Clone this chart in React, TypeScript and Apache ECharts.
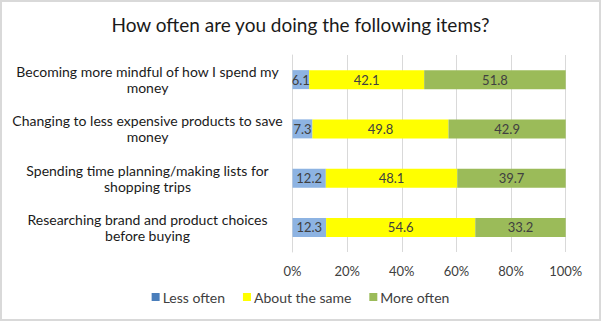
import React, { useEffect, useRef } from "react";
import * as echarts from "echarts";

const categories = [
  "Becoming more mindful of how I spend my\nmoney",
  "Changing to less expensive products to save\nmoney",
  "Spending time planning/making lists for\nshopping trips",
  "Researching brand and product choices\nbefore buying",
];
const lessOften = [6.1, 7.3, 12.2, 12.3];
const aboutSame = [42.1, 49.8, 48.1, 54.6];
const moreOften = [51.8, 42.9, 39.7, 33.2];
const seriesNames = ["Less often", "About the same", "More often"];

const FONT = "Lato";

export default function App() {
  const ref = useRef<HTMLDivElement>(null);
  useEffect(() => {
    const chart = echarts.init(ref.current!, null, { renderer: "svg" });
    const label = {
      show: true,
      position: "inside",
      color: "#404040",
      fontSize: 13,
      fontFamily: FONT,
      formatter: (p: any) => p.value.toFixed(1),
    };
    chart.setOption({
      animation: false,
      backgroundColor: "#ffffff",
      title: {
        text: "How often are you doing the following items?",
        left: "center",
        top: 10,
        textStyle: { fontFamily: FONT, fontSize: 19, fontWeight: "normal", color: "#1a1a1a" },
      },
      graphic: [
        {
          type: "rect",
          shape: { x: 1, y: 1, width: 599, height: 319 },
          style: { fill: "none", stroke: "#d9d9d9", lineWidth: 2 },
          silent: true,
        },
      ],
      legend: {
        bottom: 12,
        left: "center",
        itemWidth: 8,
        itemHeight: 8,
        itemGap: 18,
        icon: "rect",
        textStyle: { fontFamily: FONT, fontSize: 14, color: "#404040", padding: [0, 0, 0, -2] },
        data: [
          { name: seriesNames[0], itemStyle: { color: "#4a7ebb" } },
          { name: seriesNames[1], itemStyle: { color: "#ffff00" } },
          { name: seriesNames[2], itemStyle: { color: "#9bbb59" } },
        ],
      },
      grid: { left: 292.5, right: 35.3, top: 55, bottom: 69, containLabel: false },
      xAxis: {
        type: "value",
        min: 0,
        max: 100,
        interval: 20,
        axisLabel: {
          formatter: (v: number) => v + "%",
          fontFamily: FONT,
          fontSize: 13,
          color: "#404040",
          margin: 12,
        },
        splitLine: { lineStyle: { color: "#d9d9d9" } },
        axisLine: { show: false },
        axisTick: { show: false },
      },
      yAxis: {
        type: "category",
        inverse: true,
        data: categories,
        axisLine: { show: true, lineStyle: { color: "#d9d9d9" } },
        axisTick: { show: false },
        axisLabel: {
          fontFamily: FONT,
          fontSize: 14,
          color: "#1a1a1a",
          align: "center",
          margin: 145,
          lineHeight: 16,
        },
      },
      series: [
        { name: seriesNames[0], type: "bar", stack: "s", data: lessOften, barWidth: 19, itemStyle: { color: "#8db3e2" }, label },
        { name: seriesNames[1], type: "bar", stack: "s", data: aboutSame, barWidth: 19, itemStyle: { color: "#ffff00" }, label },
        { name: seriesNames[2], type: "bar", stack: "s", data: moreOften, barWidth: 19, itemStyle: { color: "#9bbb59" }, label },
      ],
    });
    return () => chart.dispose();
  }, []);
  return <div ref={ref} style={{ position: "fixed", left: 0, top: 0, width: 601, height: 321 }} />;
}
